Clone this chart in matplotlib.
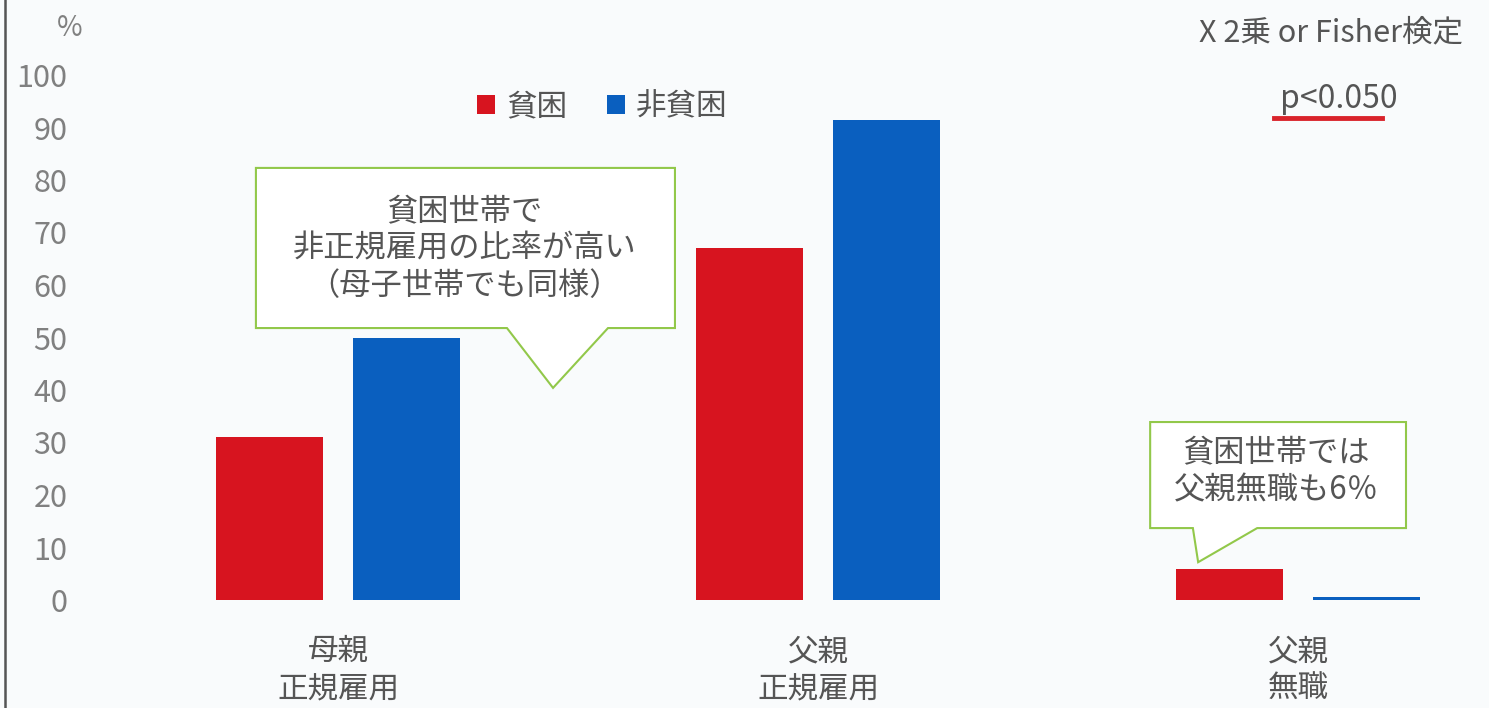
import numpy as np
import matplotlib
matplotlib.use("Agg")
import matplotlib.pyplot as plt
from matplotlib.patches import Polygon
from matplotlib.lines import Line2D

plt.rcParams["font.family"] = ["Noto Sans CJK JP", "DejaVu Sans"]

# 親の就労状況（%）
categories = ["母親\n正規雇用", "父親\n正規雇用", "父親\n無職"]
poor = [31, 67, 6]          # 貧困
non_poor = [50, 91.5, 0.5]  # 非貧困
series_names = ["貧困", "非貧困"]
yticks = list(range(0, 101, 10))

RED = "#d7141f"
BLUE = "#0a5fbf"
GREEN = "#92c84a"
GREY_TXT = "#555555"
TICK_TXT = "#808080"
BG = "#f9fbfc"

W, H = 1489, 708
fig = plt.figure(figsize=(W / 100, H / 100), dpi=100, facecolor=BG)

# axes: y=0 at 600px, y=100 at 75px; one category step = 480px
left_px, bottom_px, top_px = 98, 600, 75
ax = fig.add_axes([left_px / W, 1 - bottom_px / H, 1 - left_px / W,
                   (bottom_px - top_px) / H])
ax.set_facecolor(BG)

x = np.arange(len(categories))
bw = 0.223
off = 0.143
b1 = ax.bar(x - off, poor, bw, color=RED, label=series_names[0], zorder=2)
b2 = ax.bar(x + off, non_poor, bw, color=BLUE, label=series_names[1], zorder=2)

ax.set_xlim(-0.5, -0.5 + (W - left_px) / 480)
ax.set_ylim(0, 100)
ax.set_yticks(yticks)
ax.set_yticklabels([str(v) for v in yticks], fontsize=22, color=TICK_TXT)
ax.set_xticks(x)
ax.set_xticklabels(categories, fontsize=22, color=GREY_TXT, linespacing=1.3)
ax.tick_params(axis="y", length=0, pad=22)
ax.tick_params(axis="x", length=0, pad=26)
for s in ax.spines.values():
    s.set_visible(False)

leg = ax.legend(handles=[b1, b2], loc="center", ncol=2, frameon=False,
                bbox_to_anchor=(602 / W, 1 - 107 / H),
                bbox_transform=fig.transFigure, fontsize=22,
                handlelength=0.6, handleheight=0.6, handletextpad=0.35,
                columnspacing=1.3)
for t in leg.get_texts():
    t.set_color(GREY_TXT)


def callout(box, base, tip, text, tx, ty):
    x0, x1, y0, y1 = box
    verts = [(x0, y1), (x1, y1), (x1, y0), (base[1], y0), tip,
             (base[0], y0), (x0, y0)]
    ax.add_patch(Polygon(verts, closed=True, facecolor="white",
                         edgecolor=GREEN, lw=1.5, zorder=4, clip_on=False))
    ax.text(tx, ty, text, ha="center", va="center", fontsize=22.5,
            color=GREY_TXT, linespacing=1.2, zorder=5)


callout((-0.171, 0.702, 51.8, 82.3), (0.352, 0.5625), (0.448, 40.4),
        "貧困世帯で\n非正規雇用の比率が高い\n（母子世帯でも同様）", 0.264, 66.9)
callout((1.692, 2.225, 13.7, 33.9), (1.781, 1.915), (1.792, 7.2),
        "貧困世帯では\n父親無職も6％", 1.955, 24.4)

fig.text(70 / W, 1 - 28 / H, "%", ha="center", va="center",
         fontsize=20, color=TICK_TXT)
fig.text(1331 / W, 1 - 33 / H, "X 2乗 or Fisher検定", ha="center",
         va="center", fontsize=22, color=GREY_TXT)
fig.text(1339 / W, 1 - 99 / H, "p<0.050", ha="center", va="center",
         fontsize=23, color=GREY_TXT)
fig.add_artist(Line2D([1274 / W, 1382 / W], [1 - 118 / H, 1 - 118 / H],
                      color="#d9232b", lw=3.5))

# slide border on the left
fig.add_artist(Line2D([5 / W, 5 / W], [0, 1], color="#555555", lw=1.8))

fig.savefig("out.png", dpi=100, facecolor=BG)
